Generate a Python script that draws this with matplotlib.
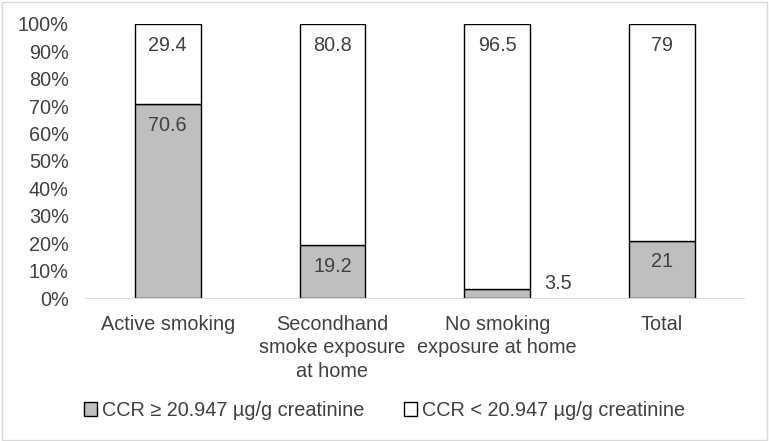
import matplotlib.pyplot as plt
from matplotlib.patches import Rectangle
from matplotlib.ticker import PercentFormatter

plt.rcParams['font.family'] = ['Liberation Sans', 'DejaVu Sans']

categories = ["Active smoking", "Secondhand\nsmoke exposure\nat home",
              "No smoking\nexposure at home", "Total"]
high_ccr = [70.6, 19.2, 3.5, 21]
low_ccr = [29.4, 80.8, 96.5, 79]
high_labels = ["70.6", "19.2", "3.5", "21"]
low_labels = ["29.4", "80.8", "96.5", "79"]
series_names = ["CCR \u2265 20.947 \u00b5g/g creatinine",
                "CCR < 20.947 \u00b5g/g creatinine"]

txt = "#404040"
fs = 14.3
fig = plt.figure(figsize=(7.69, 4.41), dpi=100)
fig.patches.append(Rectangle((0.002, 0.003), 0.995, 0.993, transform=fig.transFigure,
                             fill=False, edgecolor="#d9d9d9", linewidth=1))
ax = fig.add_axes([0.111, 0.324, 0.857, 0.622])

x = range(len(categories))
b1 = ax.bar(x, high_ccr, 0.4, color="#bfbfbf", edgecolor="black", linewidth=1)
b2 = ax.bar(x, low_ccr, 0.4, bottom=high_ccr, color="white", edgecolor="black", linewidth=1)

for i in x:
    top = high_ccr[i] + low_ccr[i]
    ax.text(i, top - 7.8, low_labels[i], ha="center", va="center", fontsize=fs, color=txt)
    if high_ccr[i] > 10:
        ax.text(i, high_ccr[i] - 7.8, high_labels[i], ha="center", va="center",
                fontsize=fs, color=txt)
    else:
        ax.text(i + 0.37, high_ccr[i] + 2, high_labels[i], ha="center", va="center",
                fontsize=fs, color=txt)

ax.set_xlim(-0.5, len(categories) - 0.5)
ax.set_ylim(0, 100)
ax.set_yticks(range(0, 101, 10))
ax.yaxis.set_major_formatter(PercentFormatter(decimals=0))
ax.set_xticks(list(x))
ax.set_xticklabels(categories, fontsize=fs, color=txt, linespacing=1.3)
ax.tick_params(axis="y", labelsize=fs, labelcolor=txt, length=0, pad=12)
ax.tick_params(axis="x", length=0, pad=12)
for s in ["top", "right", "left"]:
    ax.spines[s].set_visible(False)
ax.spines["bottom"].set_color("#d9d9d9")

fig.legend([b1[0], b2[0]], series_names, loc="center", bbox_to_anchor=(0.5, 0.069),
           ncol=2, frameon=False, fontsize=fs, labelcolor=txt,
           handlelength=0.65, handleheight=0.65, handletextpad=0.25, columnspacing=2.0)

fig.savefig("out.png", dpi=100)
